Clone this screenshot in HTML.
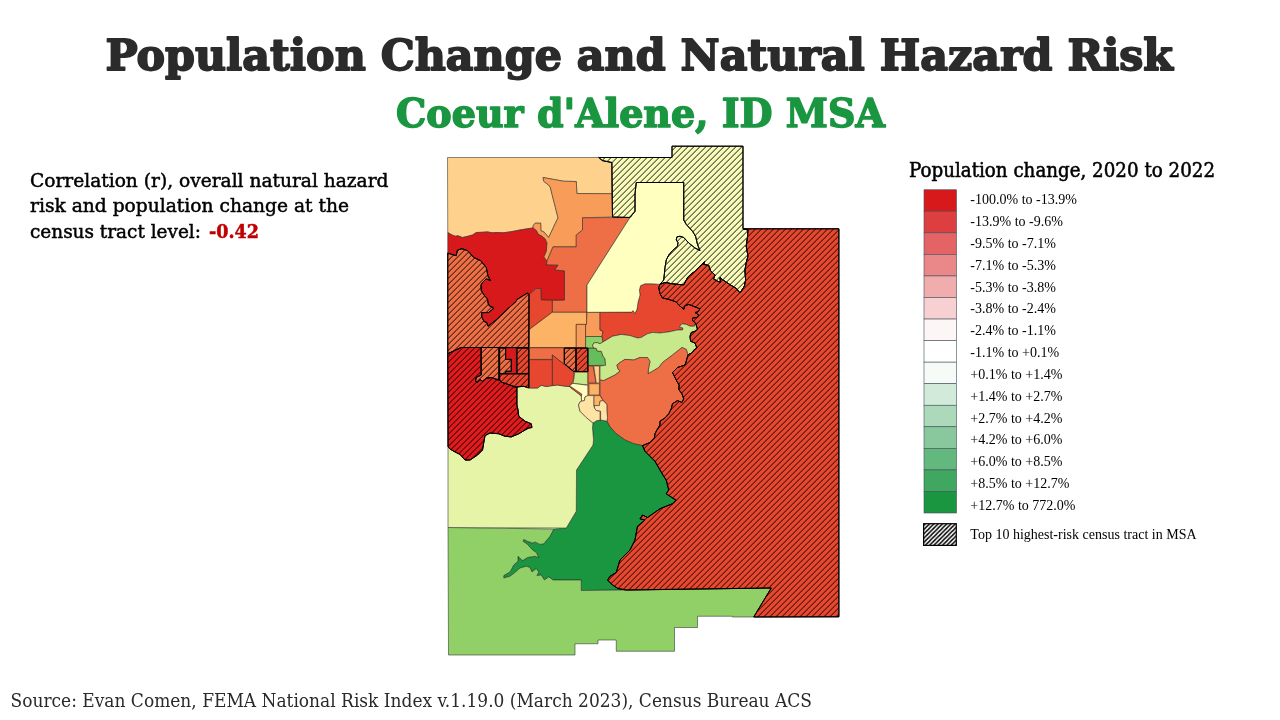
<!DOCTYPE html>
<html lang="en"><head><meta charset="utf-8"><title>Population Change and Natural Hazard Risk</title>
<style>
html,body{margin:0;padding:0;background:#fff;}
body{width:1280px;height:720px;overflow:hidden;position:relative;}
svg{position:absolute;left:0;top:0;display:block;}
.t{font-family:"DejaVu Serif","Liberation Serif",serif;font-weight:bold;}
.b{font-family:"DejaVu Serif","Liberation Serif",serif;font-stretch:condensed;}
.l{font-family:"Liberation Serif",serif;}
.pl polygon{stroke:#2a2a2a;stroke-width:0.55;stroke-linejoin:round;}
.ht polygon{stroke:#000;stroke-width:0.95;stroke-linejoin:round;}
</style></head><body>
<svg width="1280" height="720" viewBox="0 0 1280 720">
<defs>
<pattern id="h" patternUnits="userSpaceOnUse" width="6" height="6" patternTransform="translate(0,0.6)">
<path d="M-1.5,7.5 L7.5,-1.5 M-1.5,1.5 L1.5,-1.5 M4.5,7.5 L7.5,4.5" stroke="#000" stroke-width="0.92" fill="none"/>
</pattern>
<pattern id="h2" patternUnits="userSpaceOnUse" width="4.3" height="4.3">
<path d="M-1,5.3 L5.3,-1 M-1,1 L1,-1 M3.3,5.3 L5.3,3.3" stroke="#000" stroke-width="1.5" fill="none"/>
</pattern>
</defs>

<polygon fill="#ee6e45" points="528,300 640,300 640,430 528,430"/>
<g class="pl">
<polygon fill="#fed28c" points="447.5,157.5 598.75,157.5 602.5,160.6 611.9,162.5 611.9,193.75 576.9,193.5 576.25,181.5 563.75,181.25 543.1,177.5 543.75,181.25 550,186.25 558.1,218.1 556.9,220 548.7,237.5 544.2,232.2 540.9,230.6 540.7,223.2 535.2,223.2 533.3,225.4 533,228 527.5,228.75 520,230 515,231 510,231.9 503,232.8 497.5,232.5 492,232.8 487.5,231.9 482,232.3 476.25,232.5 472.5,235 467,236.5 462.5,237.5 458,235.8 455,236.25 451,234.5 447.75,232.5"/>
<polygon fill="#f89c59" points="543.1,177.5 563.75,181.25 576.25,181.5 576.9,193.5 611.9,193.75 612.5,217 582.5,217.75 582.5,230 576.25,235 576.25,246.9 553,246.9 546.9,261.25 543.75,256.9 546.25,251.25 546.9,243 545,238.8 541.9,236.3 538,234.1 536.4,230.6 533,228 533.3,225.4 535.2,223.2 540.7,223.2 540.9,230.6 544.2,232.2 548.7,237.5 556.9,220 558.1,218.1 550,186.25 543.75,181.25"/>
<polygon fill="#ee6e45" points="582.5,217.75 630,217.5 587,285 587,312.3 552.2,312.3 552.2,300.3 564.4,300 564.4,271 554.4,270 558,265.25 546.25,265 546.9,261.25 553,246.9 576.25,246.9 576.25,235 582.5,230"/>
<polygon fill="#d7191c" points="447.75,232.5 451,234.5 455,236.25 458,235.8 462.5,237.5 467,236.5 472.5,235 476.25,232.5 482,232.3 487.5,231.9 492,232.8 497.5,232.5 503,232.8 510,231.9 515,231 520,230 527.5,228.75 533,228 536.4,230.6 538,234.1 541.9,236.3 545,238.8 546.9,243 546.25,251.25 543.75,256.9 546.9,261.25 546.25,265 558,265.25 554.4,270 564.4,271 564.4,300 541.25,300 540.6,288.5 536,288.5 529,294.75 527.5,293 523,295.75 517,299.5 516,301.5 511,306 506,310.5 496,320 488,326.25 486.9,322.5 484.4,321.9 481.9,317.5 481.5,312.7 488.5,312.5 491,310.5 493.25,309 493,307.5 489.5,306 488,303 487.5,299 484,295 481.25,290.5 481,285 482.5,282.5 486.25,278.75 490.6,280.6 488,276.25 486.25,267.5 480.6,260.6 473.75,257.5 467.5,250.6 461.9,248.75 457.5,250 456.25,255.6 452,254.5 447.75,253"/>
<polygon fill="#e8472f" points="529,294.75 536,288.5 540.6,288.5 541.25,300 552.2,300.3 552.2,312.3 529.4,329.4"/>
<polygon fill="#fdb366" points="552.2,312.3 586.5,312.3 586.5,324.4 576.25,324.4 576.25,347.5 529.4,347.5 529.4,329.4"/>
<polygon fill="#f89c59" points="576.25,324.4 585.6,324.4 585.6,347.5 576.25,347.5"/>
<polygon fill="#f89c59" points="586.9,312.3 600,312.3 600,330 603,331.25 602,336.5 585.6,336.5 585.6,324.4 586.5,324.4"/>
<polygon fill="#8fd068" points="585.6,336.5 602,336.5 603,341.9 600,343.75 596.9,342.5 593.75,343 592.5,345.6 593.75,348.1 585.6,348.1"/>
<polygon fill="#66bd5c" points="588.1,348.3 596.25,348.3 597.2,351 601.25,351.25 603.1,356.25 605,358.75 605.6,365.3 588.1,365.5"/>
<polygon fill="#e8472f" points="600,312.3 631.9,312.1 633.1,310.6 635,313.75 636.25,310.6 636.9,310 638,302.5 640,295 639.4,290 640.6,285.6 645,283.75 652.5,283.75 660,284.4 658.75,287.5 660,293.75 662.5,298 668.75,299.4 676.25,301.9 678.75,305 683.75,309.4 685,305.6 688.75,304.4 694,306.5 700,308.75 698,311.9 695,312.5 698.75,315 696.9,317.5 692.5,318 692.5,320.6 695.6,323 694.4,326.25 690,326.25 686.25,324.4 681.9,323.75 679.4,326.9 683,328 682.5,330 677.5,330 668.75,331.9 660,333 652.5,332.5 647.5,333.75 641.25,337.5 637.5,338 630,335.6 621.25,334.4 612.5,336.25 603,341.9 602,336.5 603,331.25 600,330"/>
<polygon fill="#c8e88c" points="603,341.9 612.5,336.25 621.25,334.4 630,335.6 637.5,338 641.25,337.5 647.5,333.75 652.5,332.5 660,333 668.75,331.9 677.5,330 682.5,330 683,328 679.4,326.9 681.9,323.75 686.25,324.4 690,326.25 694.4,326.25 695.6,323 697.5,329.4 695,331.25 691.25,332.5 690,336.25 690.6,341.25 695,343 696.9,348 693.75,350 692.5,352.5 688,354.75 686.25,349.4 681.9,347.5 672.5,355 662.5,362.5 658.75,367.5 652.5,371.25 648,373.75 648.75,367.5 650,361.25 647.5,357.5 640,357.5 633.75,360 625,359.4 620,362.5 616.9,365 618,368.75 620,371.25 615,375 610,377.5 603.75,380.6 600,380 600,366 605.6,365.3 605.6,365.3 605,358.75 603.1,356.25 601.25,351.25 597.2,351 596.25,348.3 593.75,348.1 592.5,345.6 593.75,343 596.9,342.5 600,343.75"/>
<polygon fill="#ee6e45" points="600,380 603.75,380.6 610,377.5 615,375 620,371.25 618,368.75 616.9,365 620,362.5 625,359.4 633.75,360 640,357.5 647.5,357.5 650,361.25 648.75,367.5 648,373.75 652.5,371.25 658.75,367.5 662.5,362.5 672.5,355 681.9,347.5 686.25,349.4 688,354.75 686.25,361.25 685,365 677.5,367.5 672.5,372.5 675,377.5 677,381.5 679.2,385 678.75,389.4 681.9,393.75 683.75,398.75 681.9,402.5 677.5,400.6 672.5,403.75 671.25,408.75 668.75,413.75 665,418 660,421.25 660,425 656.9,430 655,433.75 654.4,438 650,442.5 642.5,445.6 633.75,443.75 625,440 616.25,433.75 610,426.9 606.9,421.25 607.5,417.5 606.9,411.25 606.9,404.4 603,400 600,395"/>
<polygon fill="#1a9641" points="593,423 594.5,421.5 597,420.5 600,420.3 603.5,420.5 606.9,421.25 610,426.9 616.25,433.75 625,440 633.75,443.75 642.5,445.6 645,451.25 648.75,455 655,461.25 660,470 663.5,476 666.25,480 668.75,490 666.25,493.75 673.75,498.75 676.25,500 672.5,503.75 660,508.75 647.5,517.5 642.5,515 640,518.75 645,520 637.5,526.25 635,540 630,550 620,560 616.25,572.5 610,576.25 607.5,580 612.5,585 618,588.5 626.25,590 581.25,590.5 581.25,580 553,580 548.75,576.9 544.4,580 541.25,575 536.9,575.6 538.75,571.9 536.25,568.75 531.9,571.9 530,567.5 526.25,566.25 520,568 515,572.5 510,576.25 503.75,578 503.75,575.6 510,571.9 513.75,565 518,561.25 518,556.25 522.5,560.6 527.5,557.5 535,556.25 538.75,557.5 536.25,552.5 532.5,550 527.5,544.4 523,541.25 523.75,539.4 527.5,541.25 532.5,543 535,541.9 540,544.4 543.75,543.75 550,536.25 553.75,529 566.25,528 576.25,511.25 576.5,470 593,445 593.5,440 592.5,428"/>
<polygon fill="#90d066" points="448,527.5 553.75,529 550,536.25 543.75,543.75 540,544.4 535,541.9 532.5,543 527.5,541.25 523.75,539.4 523,541.25 527.5,544.4 532.5,550 536.25,552.5 538.75,557.5 535,556.25 527.5,557.5 522.5,560.6 518,556.25 518,561.25 513.75,565 510,571.9 503.75,575.6 503.75,578 510,576.25 515,572.5 520,568 526.25,566.25 530,567.5 531.9,571.9 536.25,568.75 538.75,571.9 536.9,575.6 541.25,575 544.4,580 548.75,576.9 553,580 581.25,580 581.25,590.5 626.25,590 771.25,588 753.75,617 732.5,617 732.5,616.25 697.5,616.25 697.5,627.5 674.5,627.5 674.5,651.25 616.25,651.25 616.25,640 598,640 598,643.75 575,643.75 575,655 448.5,655"/>
<polygon fill="#e6f4a8" points="448,446.9 450.6,449.4 455,451.9 460,454.4 465,460 470,460 477.5,455 482.5,450 483.75,442.5 485,435.6 490,433 498.75,433.75 505,436.25 511.25,436.9 518.75,433.75 525,430 528.75,428 531.9,427.5 531.25,423.75 525,421.25 518.75,416.25 518,410 516.9,405 516.9,386.9 523.75,386.3 528,387.8 529.4,388 537.5,388 541.25,385.3 546.25,386.5 552.5,385.6 557.5,385 563.75,386 569.4,386.5 581.25,395.6 581.5,401.25 580,401.9 578.5,405 580,411.25 586.25,417.5 593,423 592.5,428 593.5,440 593,445 576.5,470 576.25,511.25 566.25,528 448,527.5"/>
<polygon fill="#ee6e45" points="529.4,347.8 564,347.8 564,364 552.2,355 552.2,359.4 529.4,359.4"/>
<polygon fill="#e8472f" points="529.4,359.7 552.2,359.7 552.2,385.6 546.25,386.5 541.25,385.3 537.5,388 529.4,388"/>
<polygon fill="#e8472f" points="552.5,355 564,364.4 573.75,371.9 574,375.6 573,381.25 570.6,384.4 569.4,386.5 563.75,386 557.5,385 552.5,385.6"/>
<polygon fill="#c8e88c" points="574.7,372.2 587.8,372.2 587.8,385 573,383.4 574,378"/>
<polygon fill="#ffffbf" points="571,384.4 573,383.4 587.8,385.3 587.8,395.6 585,396.9 584.4,400.6 581.5,401.25 581.5,395 569.4,386.5"/>
<polygon fill="#e8472f" points="569.4,386.5 571,386.7 582,394.2 581,395.8"/>
<polygon fill="#ee6e45" points="588.1,366 593,366 596,383 588.1,383"/>
<polygon fill="#fed28c" points="593.75,366 599.4,366 599.4,383 596.25,383"/>
<polygon fill="#fdb366" points="589,383.75 599.4,383.75 599.4,395 589,395"/>
<polygon fill="#fdb366" points="593.75,395.6 600,395.6 603,400.6 600,401.25 599.4,405.6 593.75,405.6"/>
<polygon fill="#fee3a4" points="600,401.25 603,400.6 606.9,404.4 606.9,411.25 607.5,417.5 606.9,421.25 603.5,420.5 600.6,420 600.6,411.25 596.25,410.6 594.4,408 594.4,405.6 599.4,405.6"/>
<polygon fill="#fee3a4" points="587.8,395.6 593.75,395.6 593.75,405.6 594.4,408 596.25,410.6 600,411.25 600,420.3 597,420.5 593,423 586.25,417.5 580,411.25 578.5,405 580,401.9 581.5,401.25 584.4,400.6 585,396.9"/>
<polygon fill="#ffffbf" points="636.25,182.5 683.75,182.5 683.75,220 686.25,224.4 692.5,231.25 695.6,236.25 697.5,244.4 700,250.6 695,248 688.75,243 683.75,237.5 680,236.25 676.9,236.9 676.25,240 678,242.5 677.5,246.25 672.5,250.6 668.75,255 666.25,260 665,267.5 664.4,273.75 663.75,280 660,284.4 652.5,283.75 645,283.75 640.6,285.6 639.4,290 640,295 638,302.5 636.9,310 636.25,310.6 635,313.75 633.1,310.6 631.9,312.1 587,312.3 587,285 630,217.5 635,211.25 635,193.75"/>
<polygon fill="#d7191c" points="505.6,348.1 516.25,348.1 516.25,373.8 505.6,373.8 505.6,371.25 511.25,371.25 511.25,359.4 505.6,359.4"/>
</g>
<g class="ht">
<polygon fill="#ee6e45" points="447.75,253 452,254.5 456.25,255.6 457.5,250 461.9,248.75 467.5,250.6 473.75,257.5 480.6,260.6 486.25,267.5 488,276.25 490.6,280.6 486.25,278.75 482.5,282.5 481,285 481.25,290.5 484,295 487.5,299 488,303 489.5,306 493,307.5 493.25,309 491,310.5 488.5,312.5 481.5,312.7 481.9,317.5 484.4,321.9 486.9,322.5 488,326.25 496,320 506,310.5 511,306 516,301.5 517,299.5 523,295.75 527.5,293 529,294.75 528.75,347.5 461.25,347.5 447.75,353.75"/>
<polygon fill="url(#h)" points="447.75,253 452,254.5 456.25,255.6 457.5,250 461.9,248.75 467.5,250.6 473.75,257.5 480.6,260.6 486.25,267.5 488,276.25 490.6,280.6 486.25,278.75 482.5,282.5 481,285 481.25,290.5 484,295 487.5,299 488,303 489.5,306 493,307.5 493.25,309 491,310.5 488.5,312.5 481.5,312.7 481.9,317.5 484.4,321.9 486.9,322.5 488,326.25 496,320 506,310.5 511,306 516,301.5 517,299.5 523,295.75 527.5,293 529,294.75 528.75,347.5 461.25,347.5 447.75,353.75"/>
<polygon fill="#e01a1d" points="447.75,353.75 461.25,347.5 481.25,347.5 481.25,375 476.25,377.5 475.6,381.25 477.5,382.25 480,379.4 482.5,381.25 486.25,378 491.25,377.5 495,378.75 498.75,380 502.5,382.5 510,385 515,386.9 516.9,386.9 516.9,405 518,410 518.75,416.25 525,421.25 531.25,423.75 531.9,427.5 528.75,428 525,430 518.75,433.75 511.25,436.9 505,436.25 498.75,433.75 490,433 485,435.6 483.75,442.5 482.5,450 477.5,455 470,460 465,460 460,454.4 455,451.9 450.6,449.4 448,446.9"/>
<polygon fill="url(#h)" points="447.75,353.75 461.25,347.5 481.25,347.5 481.25,375 476.25,377.5 475.6,381.25 477.5,382.25 480,379.4 482.5,381.25 486.25,378 491.25,377.5 495,378.75 498.75,380 502.5,382.5 510,385 515,386.9 516.9,386.9 516.9,405 518,410 518.75,416.25 525,421.25 531.25,423.75 531.9,427.5 528.75,428 525,430 518.75,433.75 511.25,436.9 505,436.25 498.75,433.75 490,433 485,435.6 483.75,442.5 482.5,450 477.5,455 470,460 465,460 460,454.4 455,451.9 450.6,449.4 448,446.9"/>
<polygon fill="#ee6e45" points="481.25,347.5 498.9,347.5 498.9,380 498.75,380 495,378.75 491.25,377.5 486.25,378 482.5,381.25 480,379.4 477.5,382.25 475.6,381.25 476.25,377.5 481.25,375"/>
<polygon fill="url(#h)" points="481.25,347.5 498.9,347.5 498.9,380 498.75,380 495,378.75 491.25,377.5 486.25,378 482.5,381.25 480,379.4 477.5,382.25 475.6,381.25 476.25,377.5 481.25,375"/>
<polygon fill="#ee6e45" points="499.6,348 505.6,348 505.6,359.4 511.25,359.4 511.25,371.25 505.6,371.25 505.6,373.8 499.6,373.8"/>
<polygon fill="url(#h)" points="499.6,348 505.6,348 505.6,359.4 511.25,359.4 511.25,371.25 505.6,371.25 505.6,373.8 499.6,373.8"/>
<polygon fill="#e8472f" points="516.9,348 528.75,348 528.75,373.8 516.9,373.8"/>
<polygon fill="url(#h)" points="516.9,348 528.75,348 528.75,373.8 516.9,373.8"/>
<polygon fill="#e8472f" points="499.6,373.8 528.75,373.8 528.75,387.8 523.75,386.3 516.9,386.9 515,386.9 510,385 502.5,382.5 499.6,380.3"/>
<polygon fill="url(#h)" points="499.6,373.8 528.75,373.8 528.75,387.8 523.75,386.3 516.9,386.9 515,386.9 510,385 502.5,382.5 499.6,380.3"/>
<polygon fill="#ee6e45" points="564.4,348.1 576,348.1 576,371.25 573.4,371.25 564.4,363.75"/>
<polygon fill="url(#h)" points="564.4,348.1 576,348.1 576,371.25 573.4,371.25 564.4,363.75"/>
<polygon fill="#e8472f" points="576.25,348.1 587.8,348.1 587.8,371.5 576.25,371.5"/>
<polygon fill="url(#h)" points="576.25,348.1 587.8,348.1 587.8,371.5 576.25,371.5"/>
<polygon fill="#f8fcb8" points="598.75,157.5 672,157.5 672,146.2 743,146.2 743,228.8 748,230 747.5,237.5 746.25,246.25 748,256.25 746.25,262.5 745,270 745.6,280 744.5,286 740,293 736.25,288.5 730,284.7 722,279.4 720,277.5 720.6,282.5 717.5,281.25 713.5,279 715,275 710.3,270.5 708.75,265.5 703.5,264.4 704.6,261.9 701.25,265 695,271.25 692,273.5 688,276.9 683.75,284.9 672.5,283.9 665,282.5 660,284.4 663.75,280 664.4,273.75 665,267.5 666.25,260 668.75,255 672.5,250.6 677.5,246.25 678,242.5 676.25,240 676.9,236.9 680,236.25 683.75,237.5 688.75,243 695,248 700,250.6 697.5,244.4 695.6,236.25 692.5,231.25 686.25,224.4 683.75,220 683.75,182.5 636.25,182.5 635,193.75 635,211.25 630,217.5 612.5,217 611.9,162.5 602.5,160.6"/>
<polygon fill="url(#h)" points="598.75,157.5 672,157.5 672,146.2 743,146.2 743,228.8 748,230 747.5,237.5 746.25,246.25 748,256.25 746.25,262.5 745,270 745.6,280 744.5,286 740,293 736.25,288.5 730,284.7 722,279.4 720,277.5 720.6,282.5 717.5,281.25 713.5,279 715,275 710.3,270.5 708.75,265.5 703.5,264.4 704.6,261.9 701.25,265 695,271.25 692,273.5 688,276.9 683.75,284.9 672.5,283.9 665,282.5 660,284.4 663.75,280 664.4,273.75 665,267.5 666.25,260 668.75,255 672.5,250.6 677.5,246.25 678,242.5 676.25,240 676.9,236.9 680,236.25 683.75,237.5 688.75,243 695,248 700,250.6 697.5,244.4 695.6,236.25 692.5,231.25 686.25,224.4 683.75,220 683.75,182.5 636.25,182.5 635,193.75 635,211.25 630,217.5 612.5,217 611.9,162.5 602.5,160.6"/>
<polygon fill="#e8472f" points="743,228.8 838.9,228.8 838.9,616.8 753.75,617 771.25,588 626.25,590 618,588.5 612.5,585 607.5,580 610,576.25 616.25,572.5 620,560 630,550 635,540 637.5,526.25 645,520 640,518.75 642.5,515 647.5,517.5 660,508.75 672.5,503.75 676.25,500 673.75,498.75 666.25,493.75 668.75,490 666.25,480 663.5,476 660,470 655,461.25 648.75,455 645,451.25 642.5,445.6 650,442.5 654.4,438 655,433.75 656.9,430 660,425 660,421.25 665,418 668.75,413.75 671.25,408.75 672.5,403.75 677.5,400.6 681.9,402.5 683.75,398.75 681.9,393.75 678.75,389.4 679.2,385 677,381.5 675,377.5 672.5,372.5 677.5,367.5 685,365 686.25,361.25 688,354.75 692.5,352.5 693.75,350 696.9,348 695,343 690.6,341.25 690,336.25 691.25,332.5 695,331.25 697.5,329.4 695.6,323 692.5,320.6 692.5,318 696.9,317.5 698.75,315 695,312.5 698,311.9 700,308.75 694,306.5 688.75,304.4 685,305.6 683.75,309.4 678.75,305 676.25,301.9 668.75,299.4 662.5,298 660,293.75 658.75,287.5 660,284.4 665,282.5 672.5,283.9 683.75,284.9 688,276.9 692,273.5 695,271.25 701.25,265 704.6,261.9 703.5,264.4 708.75,265.5 710.3,270.5 715,275 713.5,279 717.5,281.25 720.6,282.5 720,277.5 722,279.4 730,284.7 736.25,288.5 740,293 744.5,286 745.6,280 745,270 746.25,262.5 748,256.25 746.25,246.25 747.5,237.5 748,230 743,228.8"/>
<polygon fill="url(#h)" points="743,228.8 838.9,228.8 838.9,616.8 753.75,617 771.25,588 626.25,590 618,588.5 612.5,585 607.5,580 610,576.25 616.25,572.5 620,560 630,550 635,540 637.5,526.25 645,520 640,518.75 642.5,515 647.5,517.5 660,508.75 672.5,503.75 676.25,500 673.75,498.75 666.25,493.75 668.75,490 666.25,480 663.5,476 660,470 655,461.25 648.75,455 645,451.25 642.5,445.6 650,442.5 654.4,438 655,433.75 656.9,430 660,425 660,421.25 665,418 668.75,413.75 671.25,408.75 672.5,403.75 677.5,400.6 681.9,402.5 683.75,398.75 681.9,393.75 678.75,389.4 679.2,385 677,381.5 675,377.5 672.5,372.5 677.5,367.5 685,365 686.25,361.25 688,354.75 692.5,352.5 693.75,350 696.9,348 695,343 690.6,341.25 690,336.25 691.25,332.5 695,331.25 697.5,329.4 695.6,323 692.5,320.6 692.5,318 696.9,317.5 698.75,315 695,312.5 698,311.9 700,308.75 694,306.5 688.75,304.4 685,305.6 683.75,309.4 678.75,305 676.25,301.9 668.75,299.4 662.5,298 660,293.75 658.75,287.5 660,284.4 665,282.5 672.5,283.9 683.75,284.9 688,276.9 692,273.5 695,271.25 701.25,265 704.6,261.9 703.5,264.4 708.75,265.5 710.3,270.5 715,275 713.5,279 717.5,281.25 720.6,282.5 720,277.5 722,279.4 730,284.7 736.25,288.5 740,293 744.5,286 745.6,280 745,270 746.25,262.5 748,256.25 746.25,246.25 747.5,237.5 748,230 743,228.8"/>
</g>
<text class="t" x="105.4" y="70" font-size="43" fill="#2b2b2b" stroke="#2b2b2b" stroke-width="1.8" stroke-linejoin="round" textLength="1067.6" lengthAdjust="spacingAndGlyphs">Population Change and Natural Hazard Risk</text>
<text class="t" x="396" y="127" font-size="38.6" fill="#1a9641" stroke="#1a9641" stroke-width="1.5" stroke-linejoin="round" textLength="489" lengthAdjust="spacingAndGlyphs">Coeur d'Alene, ID MSA</text>
<g class="b" font-size="19.3" fill="#000" stroke="#000" stroke-width="0.45">
<text x="30" y="186.6" textLength="358.5" lengthAdjust="spacingAndGlyphs">Correlation (r), overall natural hazard</text>
<text x="30" y="212.1" textLength="319" lengthAdjust="spacingAndGlyphs">risk and population change at the</text>
<text x="30" y="237.6" textLength="171" lengthAdjust="spacingAndGlyphs">census tract level:</text>
<text x="209" y="237.6" font-weight="bold" fill="#c00000" stroke="#c00000" textLength="50" lengthAdjust="spacingAndGlyphs">-0.42</text>
</g>
<text class="b" x="909" y="177" font-size="20.2" fill="#000" stroke="#000" stroke-width="0.5" textLength="306" lengthAdjust="spacingAndGlyphs">Population change, 2020 to 2022</text>
<g stroke="#44505c" stroke-width="0.6">
<rect x="924" y="189.75" width="32.5" height="21.55" fill="#d7191c"/>
<rect x="924" y="211.3" width="32.5" height="21.55" fill="#dd3e40"/>
<rect x="924" y="232.85" width="32.5" height="21.55" fill="#e46365"/>
<rect x="924" y="254.4" width="32.5" height="21.55" fill="#ea8789"/>
<rect x="924" y="275.95" width="32.5" height="21.55" fill="#f1acad"/>
<rect x="924" y="297.5" width="32.5" height="21.55" fill="#f7d1d2"/>
<rect x="924" y="319.05" width="32.5" height="21.55" fill="#fdf6f6"/>
<rect x="924" y="340.6" width="32.5" height="21.55" fill="#ffffff"/>
<rect x="924" y="362.15" width="32.5" height="21.55" fill="#f6fbf7"/>
<rect x="924" y="383.7" width="32.5" height="21.55" fill="#d1ead9"/>
<rect x="924" y="405.25" width="32.5" height="21.55" fill="#add9bb"/>
<rect x="924" y="426.8" width="32.5" height="21.55" fill="#88c89c"/>
<rect x="924" y="448.35" width="32.5" height="21.55" fill="#63b87e"/>
<rect x="924" y="469.9" width="32.5" height="21.55" fill="#3fa75f"/>
<rect x="924" y="491.45" width="32.5" height="21.55" fill="#1a9641"/>
</g>
<g class="l" font-size="14.6" fill="#000" transform="translate(970.3,0) scale(0.961,1)">
<text x="0" y="204.2">-100.0% to -13.9%</text>
<text x="0" y="226.04">-13.9% to -9.6%</text>
<text x="0" y="247.88">-9.5% to -7.1%</text>
<text x="0" y="269.72">-7.1% to -5.3%</text>
<text x="0" y="291.56">-5.3% to -3.8%</text>
<text x="0" y="313.4">-3.8% to -2.4%</text>
<text x="0" y="335.24">-2.4% to -1.1%</text>
<text x="0" y="357.08">-1.1% to +0.1%</text>
<text x="0" y="378.92">+0.1% to +1.4%</text>
<text x="0" y="400.76">+1.4% to +2.7%</text>
<text x="0" y="422.6">+2.7% to +4.2%</text>
<text x="0" y="444.44">+4.2% to +6.0%</text>
<text x="0" y="466.28">+6.0% to +8.5%</text>
<text x="0" y="488.12">+8.5% to +12.7%</text>
<text x="0" y="509.96">+12.7% to 772.0%</text>
<text x="0" y="538.7">Top 10 highest-risk census tract in MSA</text>
</g>
<rect x="923.6" y="523.7" width="32.7" height="21.7" fill="#fff"/>
<rect x="923.6" y="523.7" width="32.7" height="21.7" fill="url(#h2)" stroke="#000" stroke-width="1.2"/>
<text class="b" x="10.5" y="707" font-size="19.2" fill="#2a2a2a" textLength="801.5" lengthAdjust="spacingAndGlyphs">Source: Evan Comen, FEMA National Risk Index v.1.19.0 (March 2023), Census Bureau ACS</text>
</svg></body></html>
